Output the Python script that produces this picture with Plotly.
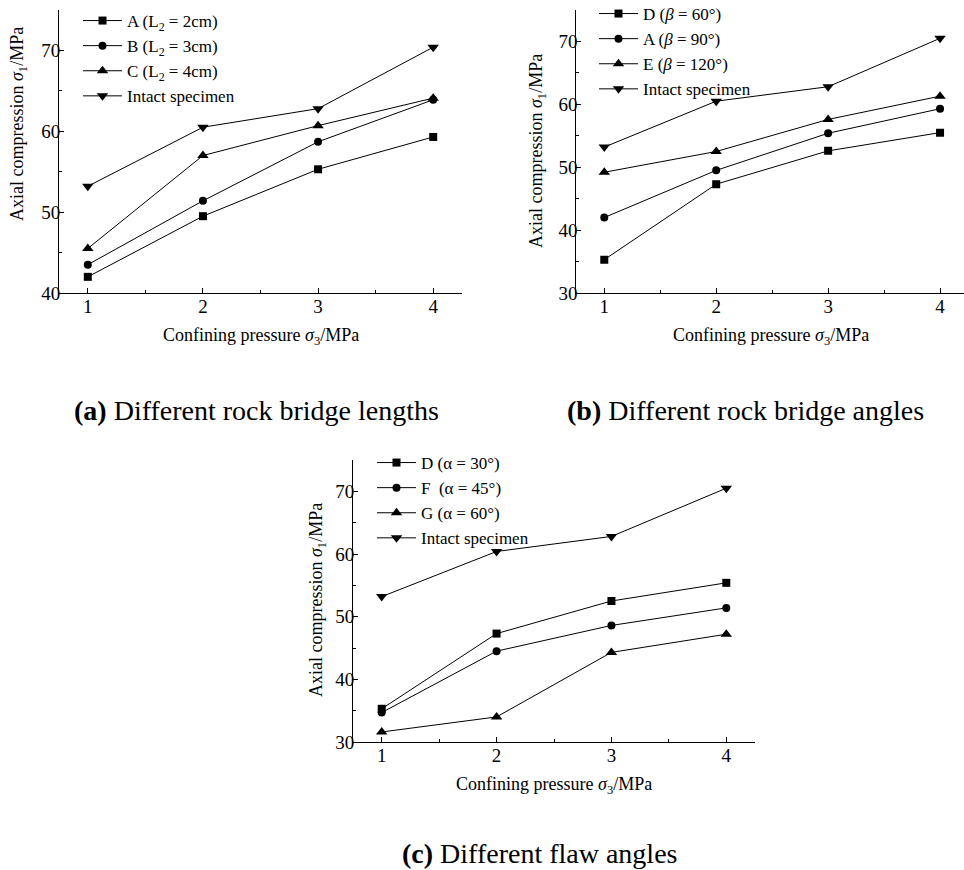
import plotly.graph_objects as go

W, H = 964, 870

# ---------------- data ----------------
pressure = [1, 2, 3, 4]

a_labels = ["A (L<sub>2</sub> = 2cm)", "B (L<sub>2</sub> = 3cm)", "C (L<sub>2</sub> = 4cm)", "Intact specimen"]
a_A = [42.0, 49.5, 55.3, 59.3]
a_B = [43.5, 51.4, 58.7, 63.9]
a_C = [45.5, 57.0, 60.7, 64.1]
a_intact = [53.2, 60.5, 62.8, 70.4]

b_labels = ["D (<i>β</i> = 60°)", "A (<i>β</i> = 90°)", "E (<i>β</i> = 120°)", "Intact specimen"]
b_D = [35.3, 47.3, 52.6, 55.5]
b_A = [42.0, 49.5, 55.4, 59.3]
b_E = [49.2, 52.5, 57.6, 61.3]
b_intact = [53.2, 60.5, 62.8, 70.5]

c_labels = ["D (α = 30°)", "F  (α = 45°)", "G (α = 60°)", "Intact specimen"]
c_D = [35.3, 47.3, 52.5, 55.4]
c_F = [34.7, 44.5, 48.6, 51.4]
c_G = [31.6, 34.0, 44.3, 47.2]
c_intact = [53.2, 60.4, 62.8, 70.5]

x_tick_vals = [1, 2, 3, 4]
y_title = "Axial compression <i>σ</i><sub>1</sub>/MPa"
x_title = "Confining pressure <i>σ</i><sub>3</sub>/MPa"
captions = ["<b>(a)</b> Different rock bridge lengths",
            "<b>(b)</b> Different rock bridge angles",
            "<b>(c)</b> Different flaw angles"]

symbols = ["square", "circle", "triangle-up", "triangle-down"]
msizes = [8, 8, 10, 10]

FONT = "Liberation Serif, Times New Roman, serif"


def px(x):
    return x / W


def py(y):
    return 1 - y / H


fig = go.Figure()

panels = [
    ("x", "y", "legend", a_labels, [a_A, a_B, a_C, a_intact]),
    ("x2", "y2", "legend2", b_labels, [b_D, b_A, b_E, b_intact]),
    ("x3", "y3", "legend3", c_labels, [c_D, c_F, c_G, c_intact]),
]

for xa, ya, lg, labels, series in panels:
    for i, (lab, vals) in enumerate(zip(labels, series)):
        fig.add_trace(go.Scatter(
            x=pressure, y=vals, mode="lines+markers", name=lab,
            xaxis=xa, yaxis=ya, legend=lg,
            line=dict(color="black", width=1),
            marker=dict(symbol=symbols[i], size=msizes[i], color="black"),
        ))

axis_common = dict(
    showline=True, linecolor="black", linewidth=1, mirror=False,
    showgrid=False, zeroline=False,
    ticks="inside", ticklen=5, tickwidth=1, tickcolor="black",
    tickfont=dict(family=FONT, size=19, color="black"),
)
minor_common = dict(ticks="inside", ticklen=3, tickwidth=1, tickcolor="black", showgrid=False)

# panel domains (pixel based)
dom = {
    "a": dict(x=[px(59), px(462)], y=[py(293), py(10)], xr=[0.75, 4.25], yr=[40, 75]),
    "b": dict(x=[px(576.3), 1.0], y=[py(293), py(10)], xr=[0.75, 4.214], yr=[30, 75]),
    "c": dict(x=[px(353), px(755)], y=[py(742), py(460)], xr=[0.75, 4.25], yr=[30, 75]),
}

layout = dict(
    width=W, height=H, margin=dict(l=0, r=0, t=0, b=0, autoexpand=False),
    paper_bgcolor="white", plot_bgcolor="white",
    font=dict(family=FONT, size=17, color="black"),
    showlegend=True,
)

names = [("xaxis", "yaxis", "x", "y", "a"), ("xaxis2", "yaxis2", "x2", "y2", "b"), ("xaxis3", "yaxis3", "x3", "y3", "c")]
for xk, yk, xid, yid, key in names:
    d = dom[key]
    layout[xk] = dict(axis_common, domain=d["x"], range=d["xr"], anchor=yid,
                      tickmode="array", tickvals=x_tick_vals, ticklabelstandoff=-4,
                      minor=dict(minor_common, dtick=0.5, tick0=0.5))
    layout[yk] = dict(axis_common, domain=d["y"], range=d["yr"], anchor=xid,
                      dtick=10, tick0=0, ticklabelstandoff=-6,
                      minor=dict(minor_common, dtick=5, tick0=0))

leg_common = dict(xanchor="left", yanchor="top", bgcolor="rgba(0,0,0,0)",
                  borderwidth=0, tracegroupgap=0, itemwidth=39,
                  font=dict(family=FONT, size=17, color="black"))
layout["legend"] = dict(leg_common, x=px(78), y=py(3))
layout["legend2"] = dict(leg_common, x=px(594), y=py(-4))
layout["legend3"] = dict(leg_common, x=px(372), y=py(445))

ann = []
# y-axis titles
for xp, yp in [(18, 124), (538, 151), (317, 600)]:
    ann.append(dict(text=y_title, x=px(xp), y=py(yp), xref="paper", yref="paper",
                    textangle=-90, showarrow=False, xanchor="center", yanchor="middle",
                    font=dict(family=FONT, size=18, color="black")))
# x-axis titles
for xp, yp in [(261, 336), (771, 336), (554, 785)]:
    ann.append(dict(text=x_title, x=px(xp), y=py(yp), xref="paper", yref="paper",
                    showarrow=False, xanchor="center", yanchor="middle",
                    font=dict(family=FONT, size=18, color="black")))
# captions
for cap, (xp, yp) in zip(captions, [(256, 410), (745, 410), (539, 853)]):
    ann.append(dict(text=cap, x=px(xp), y=py(yp), xref="paper", yref="paper",
                    showarrow=False, xanchor="center", yanchor="middle",
                    font=dict(family=FONT, size=28, color="black")))
layout["annotations"] = ann

fig.update_layout(**layout)
fig.write_html("out.html", config={"displayModeBar": False},
               post_script="document.body.style.margin='0px';document.body.style.overflow='hidden';")
